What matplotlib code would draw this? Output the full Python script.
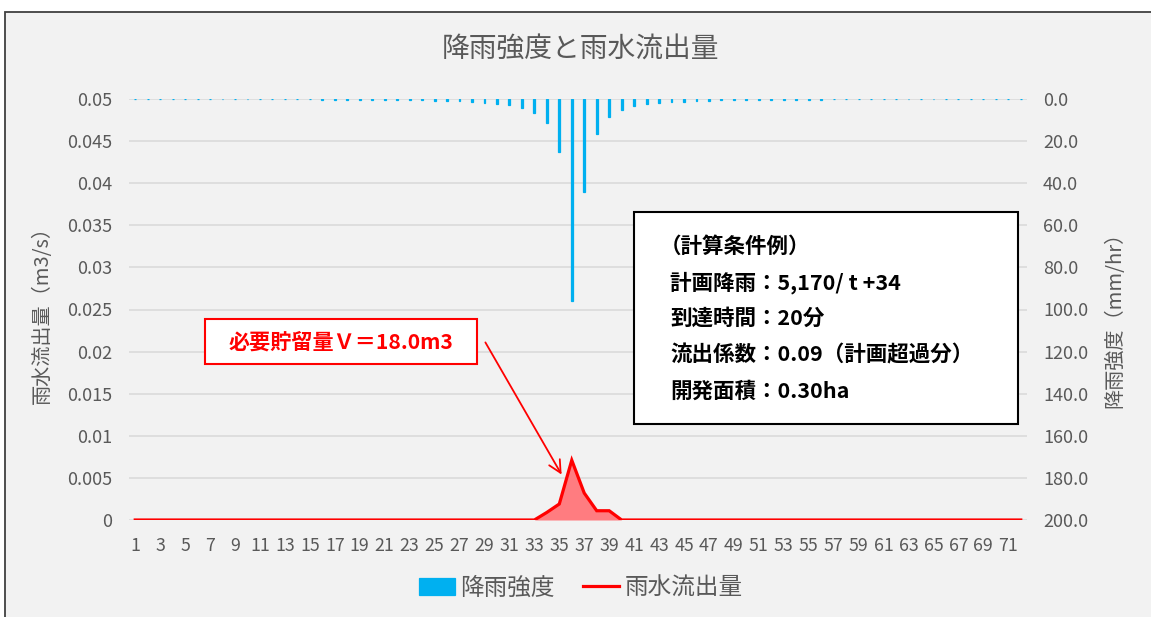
import matplotlib
matplotlib.use('Agg')
import matplotlib.pyplot as plt
from matplotlib.patches import Rectangle

plt.rcParams['font.family'] = ['Noto Sans CJK JP', 'DejaVu Sans']

GRAY = '#595959'

# 20分ごとの時刻番号
periods = list(range(1, 73))

# 降雨強度 (mm/hr)
rain = [0.084, 0.089, 0.094, 0.100, 0.107, 0.114, 0.121, 0.130, 0.139, 0.150,
        0.161, 0.174, 0.189, 0.206, 0.225, 0.247, 0.272, 0.301, 0.34, 0.38,
        0.42, 0.48, 0.55, 0.64, 0.75, 0.89, 1.08, 1.33, 1.67, 2.18,
        2.96, 4.24, 6.56, 11.51, 25.27, 95.74, 43.99, 16.40, 8.52, 5.21,
        3.51, 2.52, 1.91, 1.49, 1.19, 0.98, 0.82, 0.69, 0.59, 0.52,
        0.45, 0.40, 0.36, 0.32, 0.286, 0.259, 0.235, 0.215, 0.197, 0.182,
        0.168, 0.155, 0.144, 0.134, 0.125, 0.117, 0.110, 0.103, 0.097, 0.092,
        0.087, 0.082]

# 雨水流出量 (m3/s)
runoff = [0, 0, 0, 0, 0, 0, 0, 0, 0, 0,
          0, 0, 0, 0, 0, 0, 0, 0, 0, 0,
          0, 0, 0, 0, 0, 0, 0, 0, 0, 0,
          0, 0, 0, 0.0009, 0.0019, 0.0071, 0.0032, 0.0011, 0.0011, 0,
          0, 0, 0, 0, 0, 0, 0, 0, 0, 0,
          0, 0, 0, 0, 0, 0, 0, 0, 0, 0,
          0, 0, 0, 0, 0, 0, 0, 0, 0, 0,
          0, 0]

left_ticks = [0, 0.005, 0.01, 0.015, 0.02, 0.025, 0.03, 0.035, 0.04, 0.045, 0.05]
left_labels = ['0', '0.005', '0.01', '0.015', '0.02', '0.025', '0.03', '0.035', '0.04', '0.045', '0.05']
right_ticks = [0, 20, 40, 60, 80, 100, 120, 140, 160, 180, 200]
right_labels = ['0.0', '20.0', '40.0', '60.0', '80.0', '100.0', '120.0', '140.0', '160.0', '180.0', '200.0']

conditions = ['（計算条件例）',
              '計画降雨：5,170/ t +34',
              '到達時間：20分',
              '流出係数：0.09（計画超過分）',
              '開発面積：0.30ha']

W, H = 1151, 617


def main():
    fig = plt.figure(figsize=(W / 100, H / 100), dpi=100, facecolor='white')
    # chart area background with border
    fig.patches.append(Rectangle((5 / W, -0.05), 1.1, 0.05 + 1 - 12 / H,
                                 transform=fig.transFigure, facecolor='#F2F2F2',
                                 edgecolor='#404040', lw=1.3, zorder=-10))

    ax = fig.add_axes([129 / W, 97 / H, 898 / W, 421 / H])
    ax.set_facecolor('none')
    ax2 = ax.twinx()

    ax.fill_between(periods, runoff, color='#FF7C80', lw=0)
    line, = ax.plot(periods, runoff, color='#FF0000', lw=2.3, solid_joinstyle='miter')
    ax.set_ylim(0, 0.05)
    ax.set_xlim(0.5, 72.5)
    ax.set_yticks(left_ticks)
    ax.set_yticklabels(left_labels)
    odd = periods[::2]
    ax.set_xticks(odd)
    ax.set_xticklabels([str(p) for p in odd])
    ax.grid(axis='y', color='#D9D9D9', lw=1.1)
    ax.set_axisbelow(True)

    bars = ax2.bar(periods, rain, width=0.15, color='#00B0F0', edgecolor='#00B0F0', lw=0.9)
    ax2.set_ylim(200, 0)
    ax2.set_yticks(right_ticks)
    ax2.set_yticklabels(right_labels)

    for a in (ax, ax2):
        for s in a.spines.values():
            s.set_visible(False)
    ax.tick_params(axis='x', length=0, labelsize=12.8, colors=GRAY, pad=12)
    ax.tick_params(axis='y', length=0, labelsize=13, colors=GRAY, pad=12)
    ax2.tick_params(axis='y', length=0, labelsize=13, colors=GRAY, pad=11.5)

    ax.set_ylabel('雨水流出量（m3/s）', fontsize=14.5, color=GRAY)
    ax.yaxis.set_label_coords(-0.085, 0.5)
    ax2.set_ylabel('降雨強度（mm/hr）', fontsize=14.5, color=GRAY, rotation=90)
    ax2.yaxis.set_label_coords(1.086, 0.487)

    fig.text(580 / W, 1 - 50 / H, '降雨強度と雨水流出量', ha='center', va='center',
             fontsize=20, color=GRAY)

    fig.legend(handles=[bars, line], labels=['降雨強度', '雨水流出量'], loc='center',
               bbox_to_anchor=(581 / W, 1 - 588 / H), ncol=2, frameon=False,
               fontsize=17, handlelength=1.5, handletextpad=0.25, columnspacing=1.2,
               labelcolor=GRAY)

    # storage annotation
    ax.annotate('', xy=(563, H - 477), xycoords='figure pixels',
                xytext=(484, H - 340), textcoords='figure pixels',
                arrowprops=dict(arrowstyle='->', color='red', lw=1.3, mutation_scale=22))
    fig.patches.append(Rectangle((205 / W, 1 - 364 / H), 272 / W, 45 / H,
                                 transform=fig.transFigure, facecolor='white',
                                 edgecolor='red', lw=1.5, zorder=4))
    fig.text(341 / W, 1 - 342 / H, '必要貯留量Ｖ＝18.0m3', ha='center', va='center',
             fontsize=15.2, fontweight='bold', color='red', zorder=5)

    # condition box
    fig.patches.append(Rectangle((634 / W, 1 - 424 / H), 384 / W, 212 / H,
                                 transform=fig.transFigure, facecolor='white',
                                 edgecolor='black', lw=1.5, zorder=4))
    ys = [246.7, 283, 318.5, 355, 391.5]
    xs = [660, 670, 670, 670, 670]
    for txt, x, y in zip(conditions, xs, ys):
        fig.text(x / W, 1 - y / H, txt, ha='left', va='center', fontsize=15.5,
                 fontweight='bold', color='black', zorder=5)

    fig.savefig('out.png', dpi=100, facecolor='white')


if __name__ == "__main__":
    main()
